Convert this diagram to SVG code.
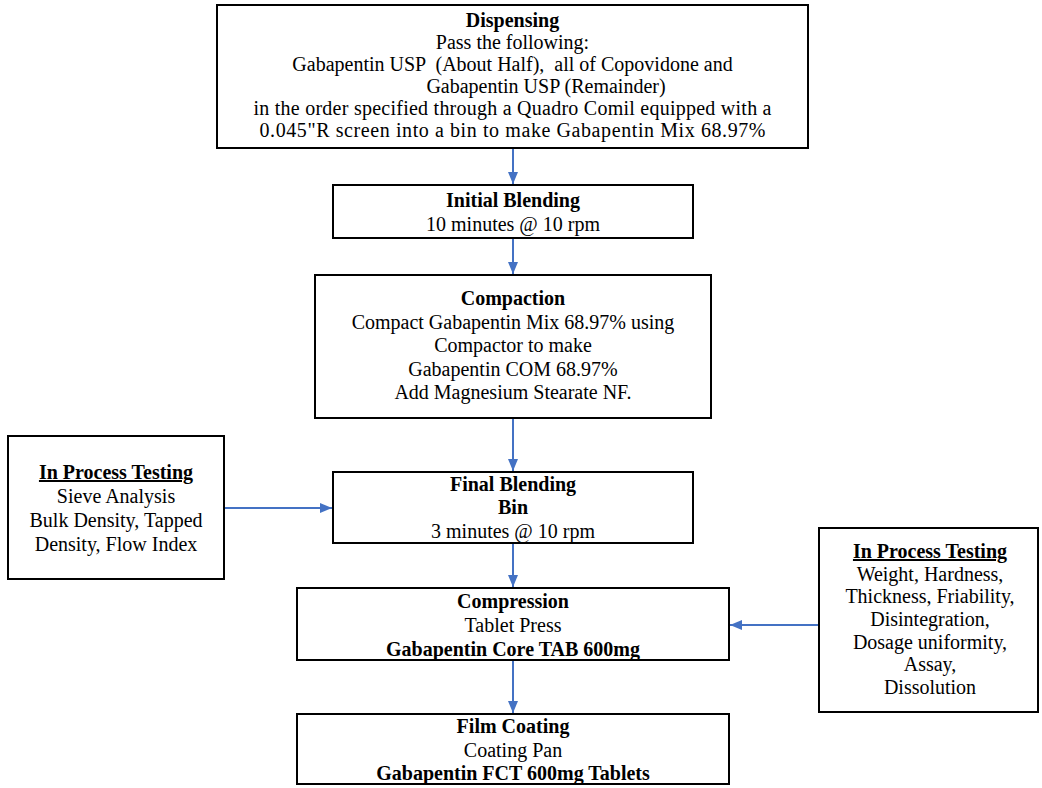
<svg xmlns="http://www.w3.org/2000/svg" width="1042" height="788" viewBox="0 0 1042 788">
  <style>
    .box { fill: #ffffff; stroke: #000000; stroke-width: 2; }
    text { font-family: "Liberation Serif", "Times New Roman", serif; font-size: 20px; fill: #000000; text-anchor: middle; white-space: pre; }
    .b { font-weight: bold; }
    .u { font-weight: bold; text-decoration: underline; }
    .link { stroke: #4472C4; stroke-width: 2; fill: none; marker-end: url(#arrow); }
  </style>
  <defs>
    <marker id="arrow" viewBox="0 0 12 10" refX="12" refY="5" markerWidth="12" markerHeight="10" markerUnits="userSpaceOnUse" orient="auto">
      <path d="M0,0 L12,5 L0,10 z" fill="#4472C4"/>
    </marker>
  </defs>

  <rect width="1042" height="788" fill="#ffffff"/>

  <!-- connectors -->
  <g id="connectors">
    <line class="link" x1="513" y1="149" x2="513" y2="184"/>
    <line class="link" x1="513" y1="239" x2="513" y2="274"/>
    <line class="link" x1="513" y1="419" x2="513" y2="471"/>
    <line class="link" x1="225" y1="508" x2="332" y2="508"/>
    <line class="link" x1="513" y1="544" x2="513" y2="587"/>
    <line class="link" x1="513" y1="661" x2="513" y2="713"/>
    <line class="link" x1="818" y1="625" x2="730" y2="625"/>
  </g>

  <g id="dispensing">
    <rect class="box" x="217" y="5" width="591" height="143"/>
    <text class="b" x="512.5" y="27">Dispensing</text>
    <text x="512.5" y="49">Pass the following:</text>
    <text x="512.5" y="71">Gabapentin USP  (About Half),  all of Copovidone and</text>
    <text x="546" y="93">Gabapentin USP (Remainder)</text>
    <text x="512.5" y="115" textLength="518" lengthAdjust="spacing">in the order specified through a Quadro Comil equipped with a</text>
    <text x="512.5" y="137" textLength="506" lengthAdjust="spacing">0.045"R screen into a bin to make Gabapentin Mix 68.97%</text>
  </g>

  <g id="initial-blending">
    <rect class="box" x="333" y="185" width="360" height="53"/>
    <text class="b" x="513" y="207">Initial Blending</text>
    <text x="513" y="231">10 minutes @ 10 rpm</text>
  </g>

  <g id="compaction">
    <rect class="box" x="315" y="275" width="396" height="143"/>
    <text class="b" x="513" y="305">Compaction</text>
    <text x="513" y="329">Compact Gabapentin Mix 68.97% using</text>
    <text x="513" y="352">Compactor to make</text>
    <text x="513" y="376">Gabapentin COM 68.97%</text>
    <text x="513" y="399">Add Magnesium Stearate NF.</text>
  </g>

  <g id="ipt-blend">
    <rect class="box" x="8" y="436" width="216" height="143"/>
    <text class="u" x="116" y="479">In Process Testing</text>
    <text x="116" y="503">Sieve Analysis</text>
    <text x="116" y="527">Bulk Density, Tapped</text>
    <text x="116" y="551">Density, Flow Index</text>
  </g>

  <g id="final-blending">
    <rect class="box" x="333" y="472" width="360" height="71"/>
    <text class="b" x="513" y="491">Final Blending</text>
    <text class="b" x="513" y="514">Bin</text>
    <text x="513" y="538">3 minutes @ 10 rpm</text>
  </g>

  <g id="compression">
    <rect class="box" x="297" y="588" width="432" height="72"/>
    <text class="b" x="513" y="608">Compression</text>
    <text x="513" y="632">Tablet Press</text>
    <text class="b" x="513" y="656">Gabapentin Core TAB 600mg</text>
  </g>

  <g id="ipt-tablet">
    <rect class="box" x="819" y="528" width="219" height="184"/>
    <text class="u" x="930" y="558">In Process Testing</text>
    <text x="930" y="581">Weight, Hardness,</text>
    <text x="930" y="603">Thickness, Friability,</text>
    <text x="930" y="626">Disintegration,</text>
    <text x="930" y="649">Dosage uniformity,</text>
    <text x="930" y="671">Assay,</text>
    <text x="930" y="694">Dissolution</text>
  </g>

  <g id="film-coating">
    <rect class="box" x="297" y="714" width="432" height="70"/>
    <text class="b" x="513" y="733">Film Coating</text>
    <text x="513" y="757">Coating Pan</text>
    <text class="b" x="513" y="780">Gabapentin FCT 600mg Tablets</text>
  </g>
</svg>
